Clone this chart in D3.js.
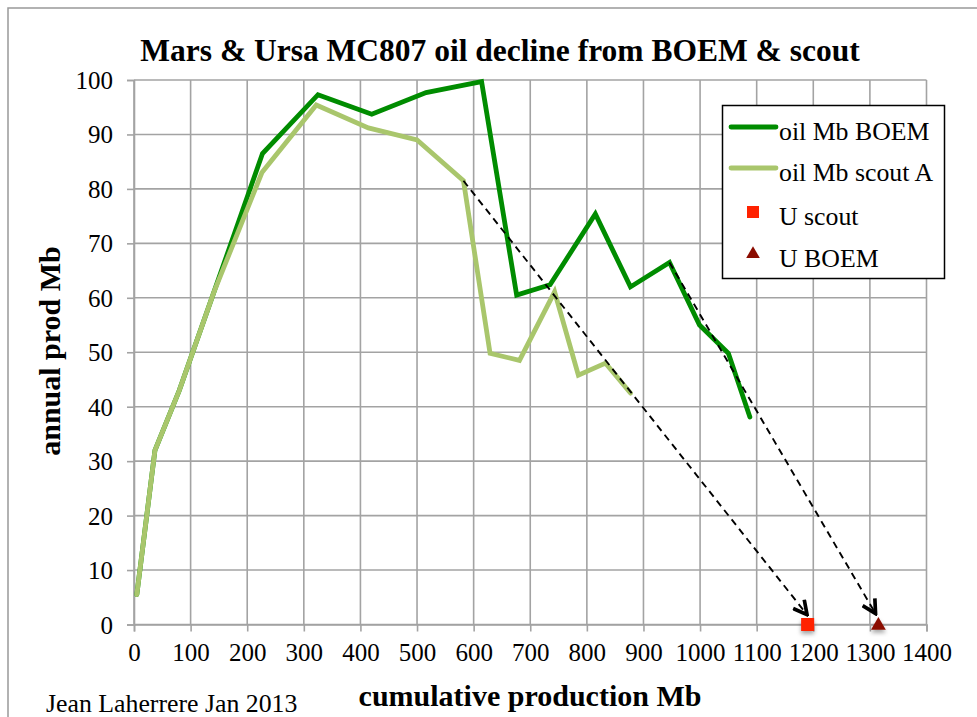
<!DOCTYPE html>
<html>
<head>
<meta charset="utf-8">
<script src="https://cdn.jsdelivr.net/npm/d3@7"></script>
<style>
  body { margin: 0; background: #fff; }
  text { font-family: "Liberation Serif", "Times New Roman", serif; fill: #000; }
</style>
</head>
<body>
<div id="chart"></div>
<script>
// cumulative production (Mb) vs annual production (Mb)
let cumBoem = [5, 37, 80, 141, 227, 325, 420, 516, 614, 676, 735, 815, 877, 946, 999, 1050, 1088];
let prodBoem = [5.5, 32, 43, 61, 86.5, 97.3, 93.7, 97.7, 99.7, 60.5, 62.4, 75.4, 62, 66.5, 55, 49.8, 38.1];

let cumScout = [5, 37, 80, 141, 226, 322, 414, 500, 582, 629, 681, 743, 785, 833, 877];
let prodScout = [5.5, 32, 43, 61, 83, 95.4, 91.2, 89, 81.5, 49.8, 48.5, 61.1, 45.8, 48, 42.5];

// ultimates
let uScout = 1190;
let uBoem = 1315;

// hand drawn decline trends: [x1, y1, x2, y2]
let trendLines = [
  [582, 81.5, 1189, 1.8],
  [946, 66.5, 1310, 2.0]
];

let xTicks = d3.range(0, 1401, 100);
let yTicks = d3.range(0, 101, 10);

let legendNames = ["oil Mb BOEM", "oil Mb scout A", "U scout", "U BOEM"];

let boemColor = "#008c00";
let scoutColor = "#a9c66c";
let gridColor = "#a3a3a3";

let width = 977, height = 717;

let svg = d3.select("#chart").append("svg")
  .attr("width", width)
  .attr("height", height);

let defs = svg.append("defs");
defs.append("marker")
  .attr("id", "arrow")
  .attr("viewBox", "0 0 12 12")
  .attr("refX", 10.5).attr("refY", 6)
  .attr("markerWidth", 17).attr("markerHeight", 17)
  .attr("markerUnits", "userSpaceOnUse")
  .attr("orient", "auto")
  .append("path")
  .attr("d", "M1,1 L10.5,6 L1,11")
  .attr("fill", "none")
  .attr("stroke", "#000")
  .attr("stroke-width", 2.6);

let shadow = defs.append("filter").attr("id", "shadow")
  .attr("x", "-50%").attr("y", "-50%").attr("width", "200%").attr("height", "200%");
shadow.append("feDropShadow")
  .attr("dx", 0).attr("dy", 3)
  .attr("stdDeviation", 2)
  .attr("flood-color", "#000")
  .attr("flood-opacity", 0.35);

// outer chart frame
svg.append("rect")
  .attr("x", 8).attr("y", 8)
  .attr("width", 1200).attr("height", 1200)
  .attr("fill", "#fff")
  .attr("stroke", "#999")
  .attr("stroke-width", 1.5);

let x = d3.scaleLinear().domain([0, 1400]).range([134, 926.5]);
let y = d3.scaleLinear().domain([0, 100]).range([624.5, 80]);

// grid
let grid = svg.append("g");
grid.selectAll(".vgrid").data(xTicks).enter().append("line")
  .attr("x1", d => x(d)).attr("x2", d => x(d))
  .attr("y1", y(100)).attr("y2", y(0))
  .attr("stroke", gridColor).attr("stroke-width", 1.6);
grid.selectAll(".hgrid").data(yTicks).enter().append("line")
  .attr("x1", x(0)).attr("x2", x(1400))
  .attr("y1", d => y(d)).attr("y2", d => y(d))
  .attr("stroke", gridColor).attr("stroke-width", 1.6);

// axes
let xAx = svg.append("g")
  .attr("transform", `translate(0, ${y(0)})`)
  .call(d3.axisBottom(x).tickValues(xTicks).tickSize(7).tickPadding(12).tickFormat(d3.format("d")));
let yAx = svg.append("g")
  .attr("transform", `translate(${x(0)}, 0)`)
  .call(d3.axisLeft(y).tickValues(yTicks).tickSize(7).tickPadding(14).tickFormat(d3.format("d")));

[xAx, yAx].forEach(function(ax) {
  ax.select(".domain").attr("stroke", gridColor).attr("stroke-width", 1.6);
  ax.selectAll(".tick line").attr("stroke", gridColor).attr("stroke-width", 1.6);
  ax.selectAll(".tick text")
    .attr("font-family", "Liberation Serif, Times New Roman, serif")
    .attr("font-size", 25)
    .attr("fill", "#000");
});
yAx.selectAll(".tick text").attr("dy", "0.34em");

// series lines
let line = d3.line().x(d => x(d[0])).y(d => y(d[1]));

let boemData = d3.zip(cumBoem, prodBoem);
let scoutData = d3.zip(cumScout, prodScout);

svg.append("path")
  .datum(boemData)
  .attr("d", line)
  .attr("fill", "none")
  .attr("stroke", boemColor)
  .attr("stroke-width", 4.8)
  .attr("stroke-linecap", "round");

svg.append("path")
  .datum(scoutData)
  .attr("d", line)
  .attr("fill", "none")
  .attr("stroke", scoutColor)
  .attr("stroke-width", 4.8)
  .attr("stroke-linecap", "round");

// trends
svg.selectAll(".trend").data(trendLines).enter().append("line")
  .attr("x1", d => x(d[0])).attr("y1", d => y(d[1]))
  .attr("x2", d => x(d[2])).attr("y2", d => y(d[3]))
  .attr("stroke", "#000")
  .attr("stroke-width", 1.9)
  .attr("stroke-dasharray", "7,5")
  .attr("marker-end", "url(#arrow)");

// ultimate markers
svg.append("rect")
  .attr("x", x(uScout) - 6.5).attr("y", y(0) - 6.5)
  .attr("width", 13).attr("height", 13)
  .attr("fill", "#ff2200")
  .attr("filter", "url(#shadow)");

svg.append("path")
  .attr("d", d3.symbol().type(d3.symbolTriangle).size(95)())
  .attr("transform", `translate(${x(uBoem)}, ${y(0) + 1})`)
  .attr("fill", "#8b0c00")
  .attr("filter", "url(#shadow)");

// title and labels
svg.append("text")
  .attr("x", 500).attr("y", 61)
  .attr("text-anchor", "middle")
  .attr("font-size", 31.5)
  .attr("font-weight", "bold")
  .text("Mars & Ursa MC807 oil decline from BOEM & scout");

svg.append("text")
  .attr("x", 530).attr("y", 706)
  .attr("text-anchor", "middle")
  .attr("font-size", 30)
  .attr("font-weight", "bold")
  .text("cumulative production Mb");

svg.append("text")
  .attr("transform", `translate(60, ${351}) rotate(-90)`)
  .attr("text-anchor", "middle")
  .attr("font-size", 30)
  .attr("font-weight", "bold")
  .text("annual prod Mb");

svg.append("text")
  .attr("x", 46).attr("y", 712)
  .attr("font-size", 25.8)
  .text("Jean Laherrere Jan 2013");

// legend
let legend = svg.append("g");
legend.append("rect")
  .attr("x", 722.5).attr("y", 105.5)
  .attr("width", 222).attr("height", 173)
  .attr("fill", "#fff")
  .attr("stroke", "#000")
  .attr("stroke-width", 1.5);

let rowY = [127, 168, 212, 254];

legend.append("line")
  .attr("x1", 731).attr("x2", 776).attr("y1", rowY[0]).attr("y2", rowY[0])
  .attr("stroke", boemColor).attr("stroke-width", 4.8).attr("stroke-linecap", "round");
legend.append("line")
  .attr("x1", 731).attr("x2", 776).attr("y1", rowY[1]).attr("y2", rowY[1])
  .attr("stroke", scoutColor).attr("stroke-width", 4.8).attr("stroke-linecap", "round");
legend.append("rect")
  .attr("x", 747).attr("y", rowY[2] - 6)
  .attr("width", 12).attr("height", 12)
  .attr("fill", "#ff2200");
legend.append("path")
  .attr("d", d3.symbol().type(d3.symbolTriangle).size(80)())
  .attr("transform", `translate(753, ${rowY[3]})`)
  .attr("fill", "#8b0c00");

legend.selectAll(".ltext").data(legendNames).enter().append("text")
  .attr("x", 779)
  .attr("y", (d, i) => rowY[i] + 13)
  .attr("font-size", 25.8)
  .text(d => d);
</script>
</body>
</html>
